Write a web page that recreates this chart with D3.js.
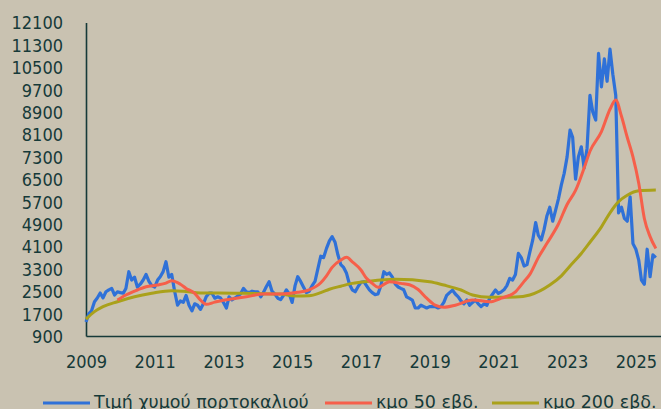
<!DOCTYPE html>
<html>
<head>
<meta charset="utf-8">
<script src="https://cdn.jsdelivr.net/npm/d3@7"></script>
<style>
  html, body { margin: 0; padding: 0; background: #c9c2b1; }
  svg { display: block; }
</style>
</head>
<body>
<div id="chart"></div>
<script>
/**
 * DATA
 * */
// monthly closes, Jan 2009 .. Aug 2025
const priceStart = "2009-01", priceEnd = "2025-09";
const price = [
  1400, 1700, 1800, 2125, 2257, 2435, 2260, 2480, 2550, 2600, 2364, 2480,
  2450, 2430, 2600, 3196, 2900, 3000, 2650, 2750, 2900, 3100, 2850, 2700,
  2650, 2900, 3018, 3200, 3554, 3000, 3100, 2500, 2000, 2150, 2100, 2350,
  2000, 1800, 2050, 2000, 1850, 2050, 2300, 2430, 2430, 2250, 2300, 2257,
  2100, 1900, 2300, 2190, 2250, 2330, 2400, 2600, 2480, 2450, 2500, 2480,
  2480, 2300, 2450, 2660, 2840, 2500, 2400, 2250, 2200, 2350, 2550, 2400,
  2100, 2700, 3018, 2850, 2650, 2450, 2500, 2700, 2850, 3300, 3750, 3700,
  4030, 4300, 4450, 4250, 3800, 3450, 3350, 3140, 2750, 2550, 2480, 2660,
  2820, 2840, 2700, 2550, 2450, 2380, 2400, 2700, 3196, 3100, 3150, 3000,
  2750, 2650, 2600, 2550, 2300, 2246, 2186, 1900, 1900, 2000, 1950, 1900,
  1950, 1950, 1950, 1900, 1950, 2100, 2350, 2450, 2540, 2400, 2300, 2150,
  2050, 2186, 2000, 2100, 2186, 2050, 1950, 2050, 2000, 2250, 2400, 2543,
  2420, 2480, 2550, 2700, 2960, 2900, 3100, 3850, 3700, 3400, 3450, 3900,
  4330, 4950, 4500, 4330, 4700, 5200, 5500, 5000, 5400, 5800, 6300, 6710,
  7300, 8257, 8000, 6500, 7300, 7660, 6900, 7600, 9500, 8900, 8614, 11000,
  9800, 10800, 10000, 11150, 10250, 9500, 5300, 5500, 5100, 5000, 5875, 4200,
  4000, 3600, 2900, 2750, 4000, 3018, 3800, 3700
];

const ma50Dates = [
  "2009-12", "2010-03", "2010-07", "2010-10", "2011-02", "2011-05", "2011-07", "2011-10",
  "2011-12", "2012-03", "2012-05", "2012-07", "2012-10", "2013-01", "2013-05", "2013-09",
  "2014-03", "2014-09", "2015-03", "2015-07", "2015-11", "2016-01", "2016-03", "2016-06",
  "2016-08", "2016-10", "2017-01", "2017-03", "2017-05", "2017-07", "2017-11", "2018-03",
  "2018-06", "2018-09", "2018-12", "2019-03", "2019-06", "2019-10", "2020-04", "2020-10",
  "2021-02", "2021-07", "2021-10", "2021-12", "2022-03", "2022-06", "2022-10", "2023-01",
  "2023-04", "2023-07", "2023-09", "2024-01", "2024-04", "2024-06", "2024-08", "2024-10",
  "2024-12", "2025-02", "2025-04", "2025-06", "2025-08"
];
const ma50 = [
  2186, 2364, 2543, 2660, 2720, 2790, 2875, 2750,
  2600, 2425, 2186, 2030, 2110, 2180, 2240, 2300,
  2400, 2400, 2460, 2550, 2800, 3050, 3350, 3614,
  3710, 3550, 3257, 2960, 2780, 2640, 2840, 2780,
  2730, 2560, 2250, 2000, 1925, 2000, 2186, 2125,
  2250, 2480, 2850, 3100, 3700, 4210, 4900, 5600,
  6100, 6900, 7500, 8200, 9000, 9330, 8750, 8000,
  7300, 6350, 5100, 4450, 4030
];

const ma200Dates = [
  "2009-01", "2009-04", "2009-07", "2009-12", "2010-06", "2010-12", "2011-07", "2011-11",
  "2012-05", "2013-05", "2014-09", "2015-02", "2015-07", "2015-11", "2016-02", "2016-06",
  "2016-10", "2017-04", "2018-01", "2019-01", "2019-06", "2019-12", "2020-04", "2020-10",
  "2021-07", "2021-12", "2022-07", "2022-11", "2023-02", "2023-06", "2023-09", "2024-01",
  "2024-04", "2024-07", "2024-10", "2025-02", "2025-08"
];
const ma200 = [
  1500, 1770, 1950, 2125, 2300, 2425, 2520, 2500,
  2440, 2430, 2400, 2330, 2340, 2450, 2570, 2680,
  2780, 2860, 2925, 2840, 2720, 2543, 2364, 2280,
  2290, 2364, 2720, 3050, 3400, 3850, 4250, 4800,
  5300, 5700, 5930, 6090, 6114
];

const yTicks = [900, 1700, 2500, 3300, 4100, 4900, 5700, 6500, 7300, 8100, 8900, 9700, 10500, 11300, 12100];
const xTicks = ["2009", "2011", "2013", "2015", "2017", "2019", "2021", "2023", "2025"];
const seriesNames = ["Τιμή χυμού πορτοκαλιού", "κμο 50 εβδ.", "κμο 200 εβδ."];

/**
 * CONSTANTS
 * */
const width = 661, height = 409;
const margin = { top: 22.5, bottom: 73, left: 86, right: 0 };
const colors = ["#2f71d8", "#f65f4a", "#aaa11b"];
const ink = "#163a39";
const font = "'DejaVu Sans Condensed', 'DejaVu Sans', sans-serif";
const legendFont = "'DejaVu Sans', sans-serif";

const parseMonth = d3.timeParse("%Y-%m");

const priceData = d3.timeMonth
  .range(parseMonth(priceStart), parseMonth(priceEnd))
  .map((d, i) => ({ date: d, value: price[i] }));
const ma50Data = ma50Dates.map((d, i) => ({ date: parseMonth(d), value: ma50[i] }));
const ma200Data = ma200Dates.map((d, i) => ({ date: parseMonth(d), value: ma200[i] }));

const svg = d3.select("#chart")
  .append("svg")
  .attr("width", width)
  .attr("height", height)
  .style("background", "#c9c2b1");

const xScale = d3.scaleTime()
  .domain([new Date(2009, 0, 1), new Date(2025, 8, 25)])
  .range([margin.left, width - margin.right]);

const yScale = d3.scaleLinear()
  .domain([900, 12100])
  .range([height - margin.bottom, margin.top]);

// axes: plain lines, no tick marks
const xAxis = d3.axisBottom(xScale)
  .tickValues(xTicks.map(d => new Date(+d, 0, 1)))
  .tickFormat(d3.timeFormat("%Y"))
  .tickSize(0)
  .tickPadding(19);

const yAxis = d3.axisLeft(yScale)
  .tickValues(yTicks)
  .tickFormat(d => d)
  .tickSize(0)
  .tickPadding(23);

svg.append("g")
  .attr("class", "x-axis")
  .attr("transform", `translate(0, ${height - margin.bottom})`)
  .call(xAxis)
  .call(g => g.select(".domain").attr("stroke", ink).attr("stroke-width", 1.6))
  .selectAll(".tick text")
  .attr("fill", ink)
  .style("font-family", font)
  .style("font-size", "18px");

svg.append("g")
  .attr("class", "y-axis")
  .attr("transform", `translate(${margin.left}, 0)`)
  .call(yAxis)
  .call(g => g.select(".domain").attr("stroke", ink).attr("stroke-width", 1.6))
  .selectAll(".tick text")
  .attr("fill", ink)
  .attr("dy", "0.36em")
  .style("font-family", font)
  .style("font-size", "18px");

const lineFunc = d3.line()
  .x(d => xScale(d.date))
  .y(d => yScale(d.value));

const smoothLine = d3.line()
  .curve(d3.curveMonotoneX)
  .x(d => xScale(d.date))
  .y(d => yScale(d.value));

svg.append("path")
  .datum(priceData)
  .attr("fill", "none")
  .attr("stroke", colors[0])
  .attr("stroke-width", 3.2)
  .attr("stroke-linejoin", "round")
  .attr("d", lineFunc);

svg.append("path")
  .datum(ma200Data)
  .attr("fill", "none")
  .attr("stroke", colors[2])
  .attr("stroke-width", 3)
  .attr("d", smoothLine);

svg.append("path")
  .datum(ma50Data)
  .attr("fill", "none")
  .attr("stroke", colors[1])
  .attr("stroke-width", 3)
  .attr("d", smoothLine);

// legend along the bottom edge (cut by the frame, as in the source)
const legendX = [43, 325, 492];
const legend = svg.selectAll("g.legend")
  .data(seriesNames)
  .join("g")
  .attr("class", "legend")
  .attr("transform", (d, i) => `translate(${legendX[i]}, 403)`);

legend.append("line")
  .attr("x1", 0)
  .attr("x2", 47)
  .attr("stroke", (d, i) => colors[i])
  .attr("stroke-width", 3);

legend.append("text")
  .attr("x", 51)
  .attr("y", 5)
  .attr("fill", ink)
  .style("font-family", legendFont)
  .style("font-size", "17.5px")
  .text(d => d);
</script>
</body>
</html>
